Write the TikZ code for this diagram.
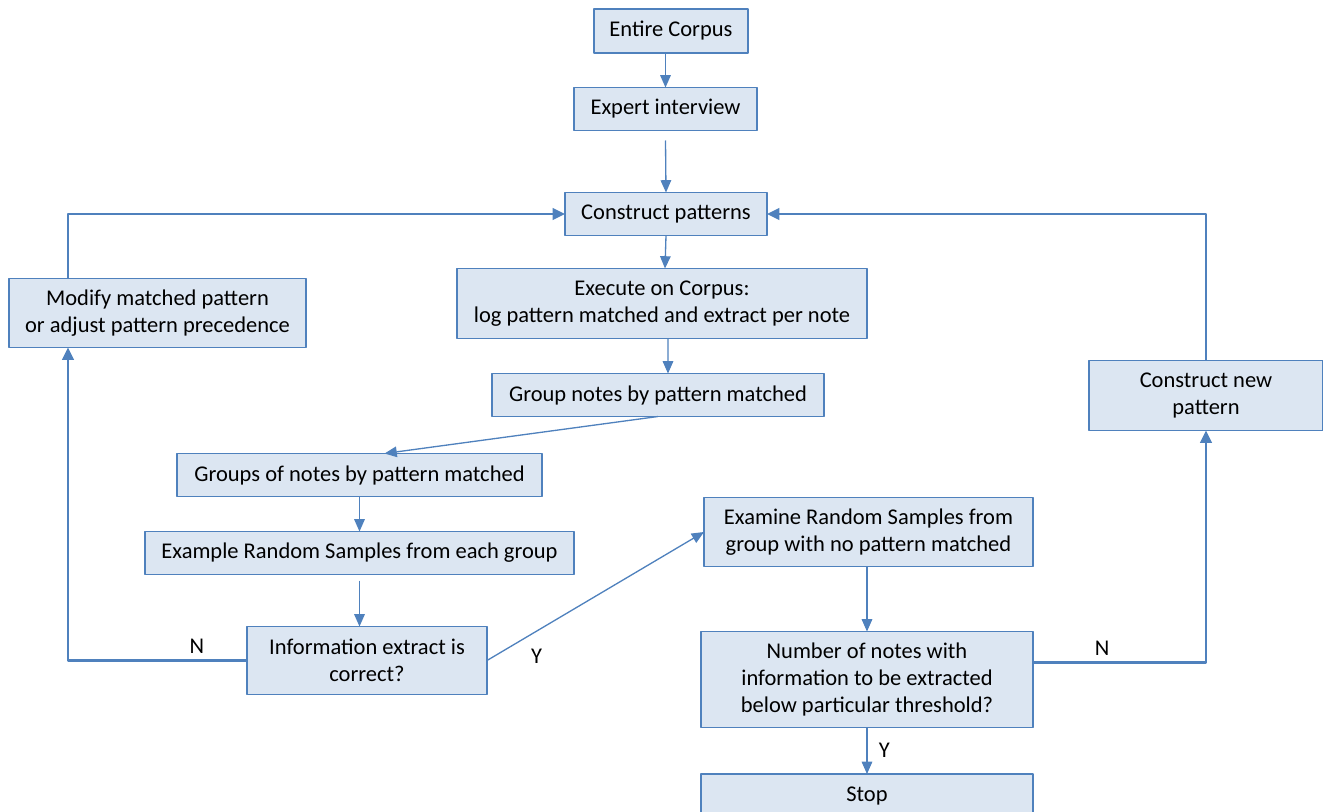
\documentclass[tikz,border=0pt]{standalone}
\usepackage{fontspec}
\setmainfont{Carlito}
\usetikzlibrary{arrows.meta}
\definecolor{boxfill}{RGB}{220,230,242}
\definecolor{boxline}{RGB}{79,129,189}
\begin{document}
\begin{tikzpicture}[x=0.02cm, y=-0.02cm, font=\fontsize{12.8}{15.4}\selectfont, line join=round,
    box/.style={draw=boxline, fill=boxfill, line width=0.75pt, inner sep=0pt, outer sep=0pt, align=center, minimum height=0.86cm},
    flow/.style={draw=boxline, line width=0.75pt, -{Triangle[width=6pt,length=7pt]}},
    back/.style={draw=boxline, line width=1.4pt, -{Triangle[width=6.5pt,length=7pt]}}]
            \useasboundingbox (0,0) rectangle (1323,812);
            \clip (0,0) rectangle (1323,812);
            \node[box, minimum width=3.08cm, minimum height=0.88cm] (corpus) at (671,31) {Entire Corpus};
            \node[box, minimum width=3.66cm] (interview) at (665.5,109) {Expert interview};
            \node[box, minimum width=4.04cm] (construct) at (666,214) {Construct patterns};
            \node[box, minimum width=8.2cm, minimum height=1.4cm] (execute) at (662,303.5) {Execute on Corpus:\\log pattern matched and extract per note};
            \node[box, minimum width=6.64cm] (group) at (658,395) {Group notes by pattern matched};
            \node[box, minimum width=7.3cm] (groups) at (359.5,475) {Groups of notes by pattern matched};
            \node[box, minimum width=8.58cm] (sample) at (359.5,553) {Example Random Samples from each group};
            \node[box, minimum width=4.8cm, minimum height=1.36cm] (check) at (367,660.5) {Information extract is\\correct?};
            \node[box, minimum width=5.94cm, minimum height=1.38cm] (modify) at (157.5,313) {Modify matched pattern\\or adjust pattern precedence};
            \node[box, minimum width=6.58cm, minimum height=1.38cm] (examine) at (868.5,532) {Examine Random Samples from\\group with no pattern matched};
            \node[box, minimum width=6.64cm, minimum height=1.92cm] (number) at (867,679.5) {Number of notes with\\information to be extracted\\below particular threshold?};
            \node[box, minimum width=6.64cm, minimum height=0.88cm] (stop) at (867,796) {Stop};
            \node[box, minimum width=4.68cm, minimum height=1.4cm] (newpat) at (1206,395.5) {Construct new\\pattern};
            \draw[flow] (interview.north |- corpus.south) -- (interview.north);
            \draw[flow] ([yshift=-0.2cm]interview.south) -- (construct.north);
            \draw[flow] (construct.south) -- ([xshift=0.06cm]execute.north);
            \draw[flow] ([xshift=0.12cm]execute.south) -- ([xshift=0.2cm]group.north);
            \draw[flow] (group.south) -- ([xshift=0.5cm]groups.north);
            \draw[flow] (groups.south) -- (sample.north);
            \draw[flow] ([yshift=-0.12cm]sample.south) -- (sample.south |- check.north);
            \draw[flow] (check.east) -- (examine.west);
            \draw[flow] (number.north |- examine.south) -- (number.north);
            \draw[flow] (number.south) -- node[right=3pt] {Y} (stop.north);
            \node[anchor=north west] (yes) at (525,643) {Y};
            \draw[back] ([yshift=0.34cm]number.east) -| node[pos=0.2, above] {N} (newpat.south);
            \draw[back] (newpat.north) |- (construct.east);
            \draw[back] (check.west) -| node[pos=0.14, above] {N} ([xshift=1.18cm]modify.south west);
            \draw[back] ([xshift=1.18cm]modify.north west) |- (construct.west);
        \end{tikzpicture}
\end{document}
